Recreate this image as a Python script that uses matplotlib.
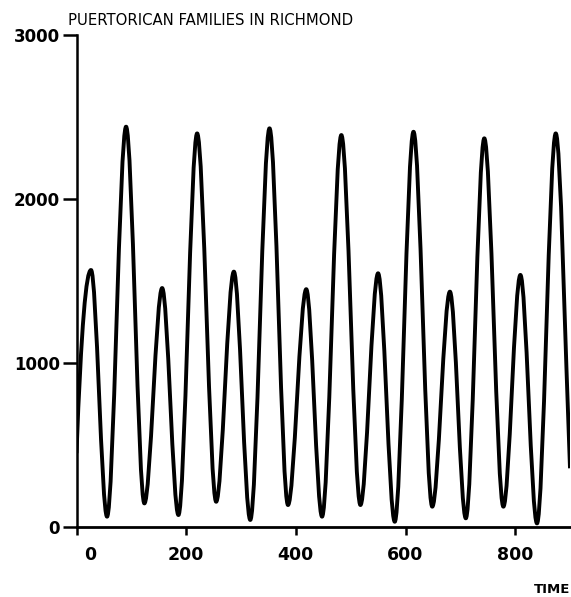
import matplotlib
matplotlib.use("Agg")
import matplotlib.pyplot as plt
import matplotlib.transforms as mtransforms
from matplotlib.path import Path
from matplotlib.patches import PathPatch

# turning points of the curve (time, families)
time = [0, 26.5, 55.7, 90.4, 123.8, 156.2, 185.9, 220, 254.7, 287, 316.9,
        352, 385.7, 419, 447.8, 483, 517.8, 550, 580.4, 614.6, 648.8, 681,
        710, 743.7, 778.5, 809.5, 839.8, 874, 900]
families = [450, 1567, 63, 2441, 144, 1457, 73, 2400, 154, 1557, 43,
            2431, 134, 1450, 63, 2390, 134, 1547, 32, 2410, 124, 1435,
            53, 2370, 124, 1537, 22, 2400, 358]

xticks = [0, 200, 400, 600, 800]
yticks = [0, 1000, 2000, 3000]
title = "PUERTORICAN FAMILIES IN RICHMOND"
xlabel = "TIME"

fig = plt.figure(figsize=(5.71, 5.97), dpi=100)
ax = fig.add_axes([76.5 / 571, 70 / 597, 493.5 / 571, 492 / 597])

# smooth curve: cubic segments with flat tangents at each turning point
verts = [(time[0], families[0])]
codes = [Path.MOVETO]
for i in range(1, len(time)):
    t0, y0 = time[i - 1], families[i - 1]
    t1, y1 = time[i], families[i]
    dt = t1 - t0
    c1 = (t0 + dt / 3, y0)
    c2 = (t1 - dt / 3, y1)
    if i == 1:
        c1 = (t0 + dt / 3, y0 + 0.7 * (y1 - y0))
    if i == len(time) - 1:
        c2 = (t1 - dt / 3, y1 + 0.35 * (y0 - y1))
    verts += [c1, c2, (t1, y1)]
    codes += [Path.CURVE4] * 3
ax.add_patch(PathPatch(Path(verts, codes), fill=False, lw=2.8,
                       edgecolor="black", joinstyle="round"))

ax.set_xlim(0, 900)
ax.set_ylim(0, 3000)
for s in ["top", "right"]:
    ax.spines[s].set_visible(False)
ax.spines["left"].set_linewidth(1.8)
ax.spines["bottom"].set_linewidth(2.0)

ax.set_xticks(xticks)
ax.set_yticks(yticks)
ax.tick_params(axis="y", direction="out", length=10, width=1.8, pad=2,
               labelsize=12)
ax.tick_params(axis="x", direction="out", length=6, width=1.8, pad=8,
               labelsize=12.5)
for lab in ax.get_xticklabels() + ax.get_yticklabels():
    lab.set_fontweight("bold")
# the "0" under the time axis sits a bit to the right of its tick
lab0 = ax.get_xticklabels()[0]
lab0.set_transform(lab0.get_transform() +
                   mtransforms.ScaledTranslation(14 / 100, 0, fig.dpi_scale_trans))

fig.text(68 / 571, 1 - 25 / 597, title, ha="left", va="baseline",
         fontsize=10.7)
fig.text(570 / 571, 1 - 593 / 597, xlabel, ha="right", va="baseline",
         fontsize=9.5, fontweight="bold")

fig.savefig("out.png", dpi=100, facecolor="white")
